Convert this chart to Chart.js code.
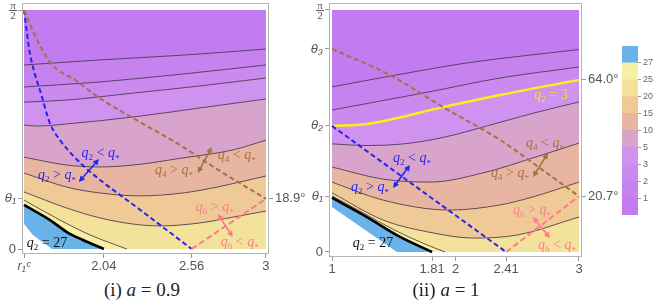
<!DOCTYPE html>
<html>
<head>
<meta charset="utf-8">
<script src="https://cdn.jsdelivr.net/npm/chart.js@4.4.1/dist/chart.umd.min.js"></script>
<style>
  body { margin: 0; background: #fff; width: 654px; height: 304px; position: relative; overflow: hidden; }
  canvas { position: absolute; }
  .cap { position: absolute; font-family: "Liberation Serif", serif; font-size: 19px; color: #222; transform: translateX(-50%); white-space: nowrap; }
</style>
</head>
<body>
<canvas id="panelA" style="left:0;top:0" width="306" height="272"></canvas>
<canvas id="panelB" style="left:300px;top:0" width="322" height="275"></canvas>
<canvas id="legendBar" style="left:618px;top:36px" width="36" height="186"></canvas>
<div class="cap" style="left:142px;top:279px">(i) <i>a</i> = 0.9</div>
<div class="cap" style="left:446px;top:279px">(ii) <i>a</i> = 1</div>
<script>
// contour levels of q2 and colours of the bands between them (q2 < 1 first)
const levels = [1, 2, 3, 5, 10, 15, 20, 25, 27];
const bandColors = ['#c27bf0', '#c683ef', '#ca8aef', '#cf92ee', '#d9a4cc', '#e8b5a2', '#f0ca96', '#f3e299', '#f6efa5', '#6ab3e8'];

// ---- panel (i): a = 0.9, points are [r, theta in degrees]
const rMinA = 1.567;
const xTicksA = [1.567, 2.04, 2.56, 3];
const xLabelsA = ['r\u2081\u1D9C', '2.04', '2.56', '3'];
const yTicksA = [0, 18.9, 90];
const yLabelsA = ['0', '\u03B8\u2081', ''];
const rightTicksA = [18.9];
const rightLabelsA = ['18.9\u00B0'];

const A_q1 = [[1.567, 69.3], [2.017, 71.2], [2.508, 73.0], [3, 75.3]];
const A_q2 = [[1.567, 61.0], [2.017, 62.9], [2.508, 65.9], [3, 69.3]];
const A_q3 = [[1.567, 55.3], [1.821, 56.1], [2.212, 58.7], [2.608, 61.4], [3, 64.4]];
const A_q5 = [[1.567, 46.7], [1.644, 46.3], [1.821, 47.1], [2.212, 49.7], [2.608, 53.1], [3, 56.5]];
const A_q10 = [[1.567, 34.6], [1.821, 31.6], [2.017, 30.9], [2.212, 31.6], [2.508, 34.3], [2.804, 37.3], [3, 41.0]];
const A_q15 = [[1.567, 28.6], [1.821, 23.3], [2.017, 21.1], [2.253, 20.0], [2.508, 21.1], [2.709, 23.3], [3, 27.5]];
const A_q20 = [[1.567, 21.5], [1.821, 15.4], [2.017, 11.7], [2.212, 9.4], [2.372, 8.7], [2.608, 9.8], [2.804, 12.0], [3, 14.3]];
const A_q25 = [[1.567, 18.4], [1.78, 10.9], [1.958, 5.3], [2.176, 0]];
const A_q27 = [[1.567, 16.6], [1.721, 10.9], [1.821, 6.4], [1.916, 3.4], [2.04, 0]];
const A_cut = [[1.567, 9.4], [1.62, 5.3], [1.733, 0]];
const A_blue = [[1.567, 90], [1.60, 74.3], [1.62, 68.5], [1.67, 58], [1.72, 47.4], [1.78, 41.0], [1.86, 35], [1.96, 29.0], [2.26, 14.5], [2.56, 0]];
const A_brown = [[1.567, 90], [1.62, 82], [1.72, 70.4], [1.887, 62.9], [2.005, 57.2], [2.212, 49.3], [2.49, 39.2], [2.709, 30.1], [3, 18.9]];
const A_pink = [[2.56, 0], [3, 18.9]];

// ---- panel (ii): a = 1
const rMinB = 1;
const xTicksB = [1, 1.81, 2, 2.41, 3];
const xLabelsB = ['1', '1.81', '2', '2.41', '3'];
const yTicksB = [0, 20.7, 46.9, 75.5, 90];
const yLabelsB = ['0', '\u03B8\u2081', '\u03B8\u2082', '\u03B8\u2083', ''];
const rightTicksB = [20.7, 64.0];
const rightLabelsB = ['20.7\u00B0', '64.0\u00B0'];

const B_q1 = [[1, 61.4], [1.47, 65.4], [2.093, 70.3], [3, 75.3]];
const B_q2 = [[1, 52.8], [1.737, 59.1], [2.36, 64.7], [3, 68.8]];
const B_q3 = [[1, 46.9], [1.283, 47.6], [1.899, 53.9], [2.36, 58.4], [3, 64.0]];
const B_q5 = [[1, 40.2], [1.283, 39.6], [1.6, 40.3], [1.9, 42.6], [2.25, 46.8], [2.628, 51.6], [3, 55.8]];
const B_q10 = [[1, 31.6], [1.413, 27.1], [1.794, 26.0], [2.223, 29.4], [2.628, 35.0], [3, 40.5]];
const B_q15 = [[1, 26.0], [1.413, 19.3], [1.955, 15.6], [2.36, 17.5], [2.628, 20.5], [3, 26.0]];
const B_q20 = [[1, 22.0], [1.413, 11.9], [1.818, 7.1], [2.142, 5.2], [2.498, 6.3], [3, 13.0]];
const B_q25 = [[1, 20.9], [1.25, 14.6], [1.5, 8.3], [1.75, 3.0], [1.915, 0]];
const B_q27 = [[1, 20.2], [1.283, 13.0], [1.551, 5.6], [1.81, 0]];
const B_cut = [[1, 16.7], [1.526, 0]];
const B_blue = [[1, 46.9], [2.41, 0]];
const B_brown = [[1, 75.5], [1.47, 65.8], [1.899, 53.9], [2.36, 41.7], [2.684, 31.2], [3, 20.7]];
const B_pink = [[2.41, 0], [3, 20.7]];

const BLUE = '#2424f2', BROWN = '#a3733f', PINK = '#ff7a8e', YELLOW = '#f5e21e';

const notesA = [
  { r: 2.02, t: 36.1, sub: '2', op: '<', rhs: '*', color: BLUE },
  { r: 1.762, t: 27.9, sub: '2', op: '>', rhs: '*', color: BLUE },
  { r: 2.827, t: 35.4, sub: '4', op: '<', rhs: '*', color: BROWN },
  { r: 2.455, t: 29.7, sub: '4', op: '>', rhs: '*', color: BROWN },
  { r: 2.697, t: 15.8, sub: '6', op: '>', rhs: '*', color: PINK },
  { r: 2.845, t: 2.6, sub: '6', op: '<', rhs: '*', color: PINK },
  { r: 1.703, t: 2.3, sub: '2', op: '=', rhs: '27', color: '#111' }
];
const arrowsA = [
  { a: [1.892, 25.2], b: [2.011, 33.9], color: BLUE },
  { a: [2.679, 38.4], b: [2.596, 28.6], color: BROWN },
  { a: [2.715, 13.2], b: [2.804, 4.5], color: PINK }
];
const notesB = [
  { r: 1.648, t: 35.0, sub: '2', op: '<', rhs: '*', color: BLUE },
  { r: 1.308, t: 24.2, sub: '2', op: '>', rhs: '*', color: BLUE },
  { r: 2.725, t: 40.5, sub: '4', op: '<', rhs: '*', color: BROWN },
  { r: 2.441, t: 29.4, sub: '4', op: '>', rhs: '*', color: BROWN },
  { r: 2.619, t: 15.6, sub: '6', op: '>', rhs: '*', color: PINK },
  { r: 2.822, t: 2.6, sub: '6', op: '<', rhs: '*', color: PINK },
  { r: 1.332, t: 3.3, sub: '2', op: '=', rhs: '27', color: '#111' },
  { r: 2.773, t: 58.4, sub: '2', op: '=', rhs: '3', color: YELLOW }
];
const arrowsB = [
  { a: [1.494, 23.8], b: [1.632, 32.4], color: BLUE },
  { a: [2.749, 36.8], b: [2.628, 27.9], color: BROWN },
  { a: [2.628, 13.0], b: [2.765, 5.2], color: PINK }
];

function mathLabel(ctx, cx, cy, n) {
  const ital = 'italic 14px "Liberation Serif"', roman = '14px "Liberation Serif"', small = '9px "Liberation Serif"';
  const parts = [['q', ital, 0], [n.sub, small, 3], [' ' + n.op + ' ', roman, 0]];
  if (n.rhs === '*') parts.push(['q', ital, 0], ['*', small, 4]);
  else parts.push([n.rhs, roman, 0]);
  let w = 0;
  parts.forEach(p => { ctx.font = p[1]; p.w = ctx.measureText(p[0]).width; w += p.w; });
  let x = cx - w / 2;
  ctx.fillStyle = n.color;
  ctx.textBaseline = 'alphabetic';
  ctx.textAlign = 'left';
  parts.forEach(p => { ctx.font = p[1]; ctx.fillText(p[0], x, cy + 4 + p[2]); x += p.w; });
}

function arrowHead(ctx, x, y, ang) {
  const h = 6, s = 3;
  ctx.beginPath();
  ctx.moveTo(x, y);
  ctx.lineTo(x - h * Math.cos(ang) + s * Math.sin(ang), y - h * Math.sin(ang) - s * Math.cos(ang));
  ctx.lineTo(x - h * Math.cos(ang) - s * Math.sin(ang), y - h * Math.sin(ang) + s * Math.cos(ang));
  ctx.closePath();
  ctx.fill();
}

const panelDeco = {
  id: 'panelDeco',
  afterDatasetsDraw(chart, args, opts) {
    const { ctx, scales } = chart;
    const px = p => ({ x: scales.x.getPixelForValue(p[0]), y: scales.y.getPixelForValue(p[1]) });
    ctx.save();
    (opts.arrows || []).forEach(ar => {
      const p = px(ar.a), q = px(ar.b);
      const ang = Math.atan2(q.y - p.y, q.x - p.x);
      ctx.strokeStyle = ar.color; ctx.fillStyle = ar.color; ctx.lineWidth = 1.6;
      ctx.beginPath();
      ctx.moveTo(p.x + 4 * Math.cos(ang), p.y + 4 * Math.sin(ang));
      ctx.lineTo(q.x - 4 * Math.cos(ang), q.y - 4 * Math.sin(ang));
      ctx.stroke();
      arrowHead(ctx, q.x, q.y, ang);
      arrowHead(ctx, p.x, p.y, ang + Math.PI);
    });
    (opts.notes || []).forEach(n => mathLabel(ctx, scales.x.getPixelForValue(n.r), scales.y.getPixelForValue(n.t), n));
    ctx.restore();
  },
  afterDraw(chart) {
    const { ctx, chartArea: a, scales } = chart;
    ctx.save();
    ctx.strokeStyle = '#b4b4b4';
    ctx.lineWidth = 1;
    ctx.strokeRect(a.left + 0.5, a.top + 0.5, a.right - a.left - 1, a.bottom - a.top - 1);
    // pi/2 tick label
    const y = scales.y.getPixelForValue(90), cx = a.left - 9;
    ctx.fillStyle = '#555';
    ctx.font = '11px "Liberation Serif"';
    ctx.textAlign = 'center';
    ctx.textBaseline = 'alphabetic';
    ctx.fillText('\u03C0', cx, y - 1);
    ctx.fillText('2', cx, y + 9);
    ctx.strokeStyle = '#555';
    ctx.beginPath(); ctx.moveTo(cx - 4, y + 0.5); ctx.lineTo(cx + 4, y + 0.5); ctx.stroke();
    ctx.restore();
  }
};

function panel(id, s) {
  const sets = [];
  const add = (pts, extra) => sets.push(Object.assign({
    data: pts.map(p => ({ x: p[0], y: p[1] })),
    yAxisID: 'y', pointRadius: 0, borderWidth: 0, fill: false,
    cubicInterpolationMode: 'monotone'
  }, extra));
  add([[s.rMin, 90], [3, 90]], { fill: 'origin', backgroundColor: bandColors[0] });
  s.contours.forEach((c, k) => {
    const lvl = levels[k];
    let line = { borderColor: 'rgba(70,55,75,0.85)', borderWidth: 1 };
    if (lvl === 27) line = { borderColor: '#000', borderWidth: 2.6 };
    if (lvl === 3 && s.yellow3) line = { borderColor: '#ffee1a', borderWidth: 2.4 };
    add(c, Object.assign({ fill: 'origin', backgroundColor: bandColors[k + 1] }, line));
  });
  add(s.cut, { fill: 'origin', backgroundColor: '#ffffff', cubicInterpolationMode: 'default', tension: 0 });
  add(s.blue, { borderColor: BLUE, borderWidth: 2, borderDash: [5, 3] });
  add(s.brown, { borderColor: BROWN, borderWidth: 2, borderDash: [5, 3] });
  add(s.pink, { borderColor: PINK, borderWidth: 2, borderDash: [6, 3], cubicInterpolationMode: 'default', tension: 0 });
  sets.forEach((d, i) => { d.order = sets.length - i; });

  // symbols (theta, r) in italics, numbers upright
  const tickFont = (labels) => c => {
    const lab = labels[c.index] || '';
    return { family: 'Liberation Sans', size: 13, style: /[\u03B8r]/.test(lab) ? 'italic' : 'normal' };
  };
  const grid = { drawOnChartArea: false, tickLength: 4, color: '#9a9a9a' };
  const yScale = (pos, ticks, labels, w) => ({
    type: 'linear', position: pos, min: s.yMin, max: s.yMax,
    afterBuildTicks: sc => { sc.ticks = ticks.map(v => ({ value: v })); },
    afterFit: sc => { sc.width = w; sc.paddingTop = 0; sc.paddingBottom = 0; },
    ticks: { autoSkip: false, color: '#555', font: tickFont(labels), padding: 2, callback: (v, i) => labels[i] },
    grid: grid, border: { display: false }
  });

  return new Chart(document.getElementById(id), {
    type: 'line',
    data: { datasets: sets },
    plugins: [panelDeco],
    options: {
      responsive: false, animation: false, events: [],
      layout: { padding: { top: 3, left: 0, right: 0, bottom: 0 } },
      scales: {
        x: {
          type: 'linear', min: s.xMin, max: s.xMax,
          afterBuildTicks: sc => { sc.ticks = s.xTicks.map(v => ({ value: v })); },
          afterFit: sc => { sc.height = 18; sc.paddingLeft = 0; sc.paddingRight = 0; },
          ticks: { autoSkip: false, maxRotation: 0, color: '#555', font: tickFont(s.xLabels), padding: 1, callback: (v, i) => s.xLabels[i] },
          grid: grid, border: { display: false }
        },
        y: yScale('left', s.yTicks, s.yLabels, s.leftW),
        y2: yScale('right', s.rightTicks, s.rightLabels, s.rightW)
      },
      plugins: {
        legend: { display: false }, tooltip: { enabled: false },
        panelDeco: { notes: s.notes, arrows: s.arrows }
      }
    }
  });
}

panel('panelA', {
  rMin: rMinA, xMin: 1.555, xMax: 3.018, yMin: -1.88, yMax: 92.64, leftW: 22, rightW: 37,
  xTicks: xTicksA, xLabels: xLabelsA, yTicks: yTicksA, yLabels: yLabelsA,
  rightTicks: rightTicksA, rightLabels: rightLabelsA,
  contours: [A_q1, A_q2, A_q3, A_q5, A_q10, A_q15, A_q20, A_q25, A_q27],
  cut: A_cut, blue: A_blue, brown: A_brown, pink: A_pink,
  notes: notesA, arrows: arrowsA, yellow3: false
});

panel('panelB', {
  rMin: rMinB, xMin: 0.9757, xMax: 3.0243, yMin: -1.86, yMax: 92.6, leftW: 29, rightW: 40,
  xTicks: xTicksB, xLabels: xLabelsB, yTicks: yTicksB, yLabels: yLabelsB,
  rightTicks: rightTicksB, rightLabels: rightLabelsB,
  contours: [B_q1, B_q2, B_q3, B_q5, B_q10, B_q15, B_q20, B_q25, B_q27],
  cut: B_cut, blue: B_blue, brown: B_brown, pink: B_pink,
  notes: notesB, arrows: arrowsB, yellow3: true
});

// colour bar: one stacked bar, one segment per band
new Chart(document.getElementById('legendBar'), {
  type: 'bar',
  data: {
    labels: [''],
    datasets: bandColors.map(c => ({ data: [1], backgroundColor: c, borderWidth: 0, barPercentage: 1, categoryPercentage: 1 }))
  },
  options: {
    responsive: false, animation: false, events: [],
    layout: { padding: { top: 10, left: 4, right: 0, bottom: 7 } },
    scales: {
      x: { stacked: true, display: false },
      y: {
        stacked: true, position: 'right', min: 0, max: bandColors.length,
        afterBuildTicks: sc => { sc.ticks = levels.map((v, i) => ({ value: i + 1 })); },
        afterFit: sc => { sc.width = 16; sc.paddingTop = 0; sc.paddingBottom = 0; },
        ticks: { autoSkip: false, color: '#666', font: { family: 'Liberation Sans', size: 9 }, padding: 2, callback: (v, i) => String(levels[i]) },
        grid: { drawOnChartArea: true, color: 'rgba(80,60,70,0.75)', tickColor: '#9a9a9a', tickLength: 3 },
        border: { display: false }
      }
    },
    plugins: { legend: { display: false }, tooltip: { enabled: false } }
  }
});
</script>
</body>
</html>
